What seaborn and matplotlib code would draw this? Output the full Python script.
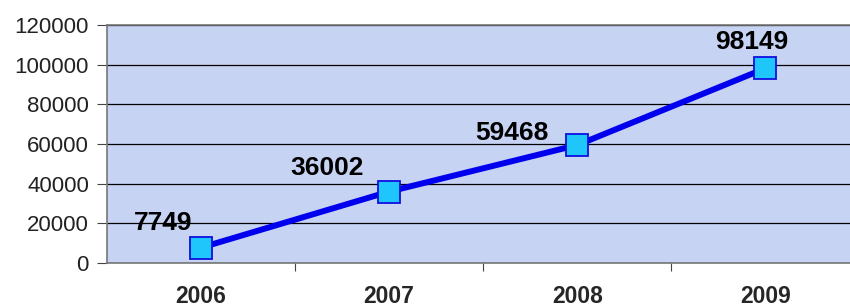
import numpy as np
import pandas as pd
import matplotlib
matplotlib.use('Agg')
import matplotlib.pyplot as plt
import seaborn as sns

years = ['2006', '2007', '2008', '2009']
values = [7749, 36002, 59468, 98149]
y_ticks = [0, 20000, 40000, 60000, 80000, 100000, 120000]

# label offsets in points (dx, dy) from each marker
label_offsets = [(-27, 18), (-45, 17), (-47, 9), (-10, 19)]

sns.set_style('white')
plt.rcParams['font.family'] = ['Liberation Sans', 'DejaVu Sans']

df = pd.DataFrame({'pos': np.arange(len(years)), 'value': values})

fig = plt.figure(figsize=(8.5, 3.07), dpi=100)
ax = fig.add_axes([107 / 850, 1 - 263 / 307, 1 - 107 / 850, (263 - 25) / 307])
ax.set_facecolor('#c7d3f3')

sns.lineplot(data=df, x='pos', y='value', ax=ax, color='#0000ee', lw=4.3,
             marker='s', markersize=15.5, markerfacecolor='#1ec6fb',
             markeredgecolor='#1010e0', markeredgewidth=1.3, zorder=3)

for i, v in enumerate(values):
    ax.annotate(str(v), (i, v), xytext=label_offsets[i], textcoords='offset points',
                ha='center', va='center', fontsize=19, fontweight='bold', color='black')

ax.set_ylim(0, 120000)
ax.set_xlim(-0.5, 3.45)
ax.set_yticks(y_ticks)
ax.set_yticklabels([str(t) for t in y_ticks], fontsize=16, color='#222222')
ax.yaxis.grid(True, color='black', lw=0.9)
ax.set_axisbelow(True)

ax.set_xticks([0.5, 1.5, 2.5])
ax.set_xticklabels([])
ax.set_xticks(range(len(years)), minor=True)
ax.set_xticklabels(years, minor=True, fontsize=16.5, fontweight='bold')
ax.tick_params(axis='x', which='major', direction='out', length=6, color='#444444', bottom=True)
ax.tick_params(axis='x', which='minor', length=0, pad=16)
ax.tick_params(axis='y', direction='out', length=7, color='#444444', left=True, pad=6)

ax.set_xlabel('')
ax.set_ylabel('')
for s in ['left', 'bottom', 'top']:
    ax.spines[s].set_color('#777777')
    ax.spines[s].set_linewidth(1.2)
ax.spines['right'].set_visible(False)

fig.savefig('out.png', dpi=100)
